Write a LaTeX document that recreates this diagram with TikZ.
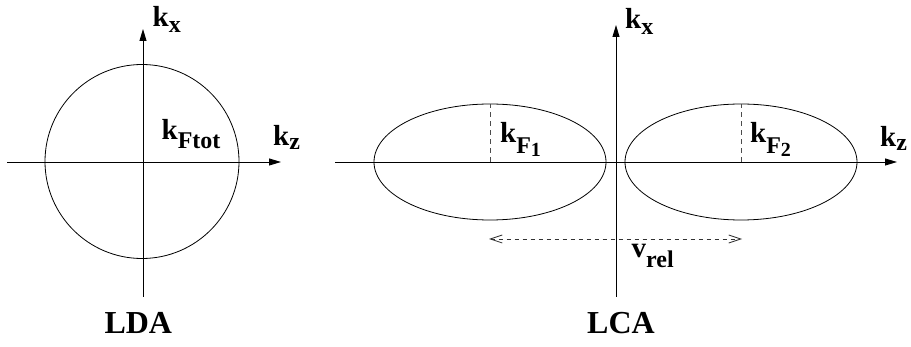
\documentclass[tikz,border=0pt]{standalone}
\usepackage{fontspec}
\setmainfont{Liberation Serif}
\usetikzlibrary{arrows.meta,shapes.geometric}
\newcommand{\ksub}[3][7pt]{#2\raisebox{-#1}{\fontsize{24}{24}\selectfont #3}}
\newcommand{\fidx}[1]{F\raisebox{-3pt}{\fontsize{20}{20}\selectfont #1}}
\tikzset{
  kaxis/.style={line width=0.9pt,draw=black,-{Triangle[length=12pt,width=7pt]}},
  fermi/.style={draw=black,line width=0.8pt,inner sep=0pt,outer sep=0pt},
  rline/.style={draw=black!70,line width=0.9pt,dash pattern=on 5pt off 4pt},
  vel/.style={draw=black!80,line width=0.8pt,dash pattern=on 4pt off 4pt,
    {Straight Barb[length=12pt,width=8pt]}-{Straight Barb[length=12pt,width=8pt]}},
  lbl/.style={font=\bfseries\fontsize{29}{29}\selectfont,inner sep=0pt,anchor=base west},
  ttl/.style={font=\bfseries\fontsize{32}{32}\selectfont,inner sep=0pt,anchor=base},
}
\begin{document}
\begin{tikzpicture}[x=1pt,y=-1pt]
  \useasboundingbox (0,0) rectangle (911,347);
  \coordinate (la) at (7,162);
  \coordinate (lb) at (281,162);
  \coordinate (lc) at (143,297);
  \coordinate (ld) at (143,29);
  \draw[kaxis] (la) -- (lb);
  \draw[kaxis] (lc) -- (ld);
  \node[fermi,circle,minimum size=194pt] (sphere) at (142,161.5) {};
  \node[lbl] (kxl) at (152.5,26.7) {\ksub[6pt]{k}{x}};
  \node[lbl] (kzl) at (273,146) {\ksub[4pt]{k}{z}};
  \node[lbl] (ktot) at (161.5,140) {\ksub[9pt]{k}{Ftot}};
  \node[ttl] (lda) at (138.3,333.3) {LDA};
  \coordinate (ra) at (335,162);
  \coordinate (rb) at (897,162);
  \coordinate (rc) at (616,297);
  \coordinate (rd) at (616,25);
  \draw[kaxis] (ra) -- (rb);
  \draw[kaxis] (rc) -- (rd);
  \node[fermi,ellipse,minimum width=232pt,minimum height=116pt] (lobeA) at (490,162) {};
  \node[fermi,ellipse,minimum width=232pt,minimum height=116pt] (lobeB) at (741,162) {};
  \draw[rline] (lobeA.center) -- (lobeA.north);
  \draw[rline] (lobeB.center) -- (lobeB.north);
  \coordinate (va) at (489,239);
  \coordinate (vb) at (742,239);
  \draw[vel] (va) -- (vb);
  \node[lbl] (kxr) at (625,29) {\ksub[6pt]{k}{x}};
  \node[lbl] (kzr) at (880,147) {\ksub[4pt]{k}{z}};
  \node[lbl] (kfa) at (500,143) {\ksub[11pt]{k}{\fidx{1}}};
  \node[lbl] (kfb) at (750,143) {\ksub[11pt]{k}{\fidx{2}}};
  \node[lbl] (vrel) at (631.5,258) {\ksub[10pt]{v}{rel}};
  \node[ttl] (lca) at (621,333.3) {LCA};
\end{tikzpicture}
\end{document}
